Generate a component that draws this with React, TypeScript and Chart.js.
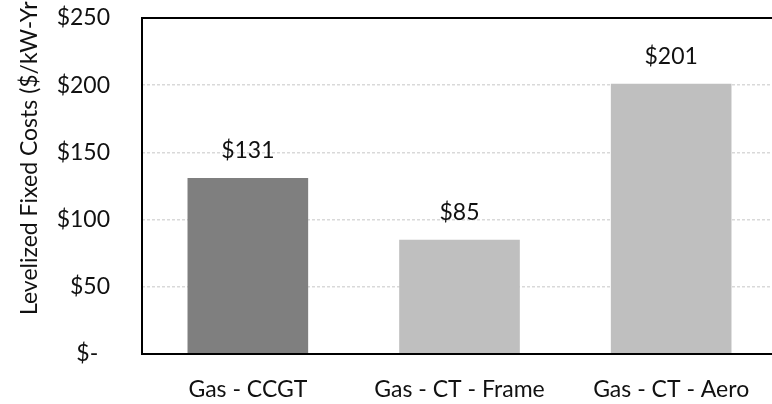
import React, { useEffect, useRef } from "react";
import { Chart, registerables } from "chart.js";

Chart.register(...registerables);

const categories = ["Gas - CCGT", "Gas - CT - Frame", "Gas - CT - Aero"];
const fixedCosts = [131, 85, 201];
const barColors = ["#7f7f7f", "#bfbfbf", "#bfbfbf"];
const yTicks = [0, 50, 100, 150, 200, 250];
const axisTitle = "Levelized Fixed Costs ($/kW-Yr";

const FONT = "Lato, 'Open Sans', sans-serif";
const TEXT = "#111111";

const fmtMoney = (v: number) => (v === 0 ? "$-  " : "$" + v);

// Black frame around the plot area plus value labels above bars and the rotated axis title.
const decorations = {
  id: "decorations",
  afterDatasetsDraw(chart: any) {
    const { ctx, chartArea } = chart;
    ctx.save();
    ctx.strokeStyle = "#000";
    ctx.lineWidth = 2;
    ctx.strokeRect(chartArea.left, chartArea.top, chartArea.right - chartArea.left, chartArea.bottom - chartArea.top);

    ctx.fillStyle = TEXT;
    ctx.font = `23px ${FONT}`;
    ctx.textAlign = "center";
    ctx.textBaseline = "middle";
    const meta = chart.getDatasetMeta(0);
    meta.data.forEach((bar: any, i: number) => {
      ctx.fillText("$" + fixedCosts[i], bar.x, bar.y - 27);
    });

    ctx.translate(37, 315);
    ctx.rotate(-Math.PI / 2);
    ctx.textAlign = "left";
    ctx.textBaseline = "alphabetic";
    ctx.font = `23px ${FONT}`;
    ctx.fillText(axisTitle, 0, 0);
    ctx.restore();
  },
};

export default function App() {
  const ref = useRef<HTMLCanvasElement | null>(null);

  useEffect(() => {
    if (!ref.current) return;
    const chart = new Chart(ref.current, {
      type: "bar",
      data: {
        labels: categories,
        datasets: [
          {
            data: fixedCosts,
            backgroundColor: barColors,
            borderWidth: 0,
            categoryPercentage: 1,
            barPercentage: 0.57,
          },
        ],
      },
      options: {
        responsive: false,
        animation: false,
        layout: { padding: { top: 18, right: 8, left: 0, bottom: 0 } },
        plugins: { legend: { display: false }, tooltip: { enabled: false } },
        scales: {
          x: {
            grid: { display: false, drawTicks: false },
            border: { display: false },
            ticks: { color: TEXT, font: { family: FONT, size: 23 }, padding: 22, maxRotation: 0 },
            afterFit: (s: any) => {
              s.height = 50;
              s.paddingLeft = 0;
              s.paddingRight = 0;
            },
          },
          y: {
            min: 0,
            max: 250,
            afterBuildTicks: (s: any) => {
              s.ticks = yTicks.map((v) => ({ value: v }));
            },
            grid: { color: "#d9d9d9", lineWidth: 1.5, drawTicks: false },
            border: { display: false, dash: [3, 2] },
            ticks: {
              color: TEXT,
              font: { family: FONT, size: 23 },
              padding: 32,
              callback: (v: any) => fmtMoney(Number(v)),
            },
            afterFit: (s: any) => {
              s.width = 142;
              s.paddingTop = 0;
              s.paddingBottom = 0;
            },
          },
        },
      },
      plugins: [decorations],
    });
    return () => chart.destroy();
  }, []);

  return (
    <div style={{ position: "fixed", left: 0, top: 0, width: 785, height: 404, background: "#fff" }}>
      <canvas ref={ref} width={785} height={404} />
    </div>
  );
}
